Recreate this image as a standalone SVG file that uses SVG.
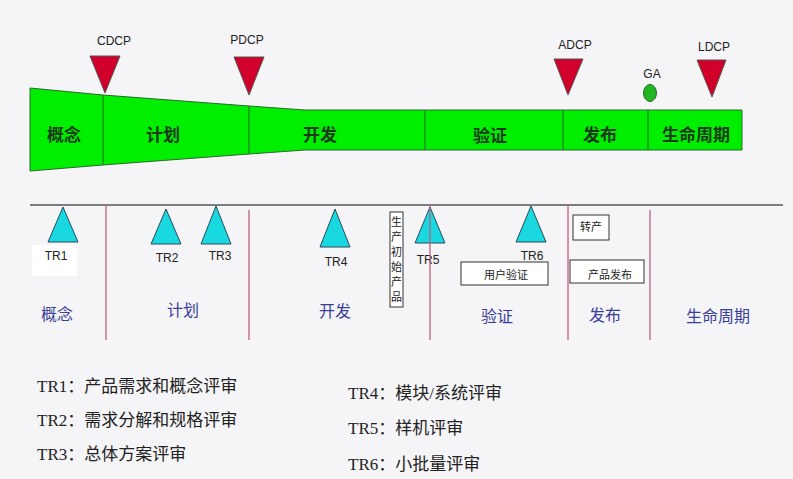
<svg xmlns="http://www.w3.org/2000/svg" width="793" height="479" viewBox="0 0 793 479">
<defs><style>
.lbl{font-family:"Liberation Sans","Noto Sans CJK SC",sans-serif;font-size:12px;fill:#222;text-anchor:middle}
.ph{font-family:"Noto Sans CJK SC",sans-serif;font-size:17px;font-weight:bold;fill:#1a3a1a;text-anchor:middle}
.bt{font-family:"Noto Sans CJK SC",sans-serif;font-size:16px;fill:#3a3f9a;text-anchor:middle}
.leg{font-family:"Liberation Serif","Noto Sans CJK SC",serif;font-size:17px;fill:#222}
.box{fill:#fff;stroke:#333;stroke-width:1}
.bx{font-family:"Noto Sans CJK SC",sans-serif;font-size:11px;fill:#222;text-anchor:middle}
.red{fill:#d0002a;stroke:#555;stroke-width:1}
.cy{fill:#19d8e0;stroke:#2a4a5a;stroke-width:1}
.pl{stroke:#c0607a;stroke-width:1.3}
</style></defs>
<rect width="793" height="479" fill="#f5f5f7"/>
<g id="bar">
<polygon points="30,88 103,95 249,106 305,110 742,110 742,150 305,150 249,154 103,165 30,171" fill="#00ee00" stroke="#2a6a2a" stroke-width="1"/>
<g stroke="#2a6a2a" stroke-width="1"><line x1="103" y1="95" x2="103" y2="165"/><line x1="249" y1="106" x2="249" y2="154"/><line x1="425" y1="110" x2="425" y2="150"/><line x1="563" y1="110" x2="563" y2="150"/><line x1="648" y1="110" x2="648" y2="150"/></g>
<text class="ph" x="64" y="141">概念</text><text class="ph" x="163" y="141">计划</text><text class="ph" x="320" y="141">开发</text><text class="ph" x="490" y="142">验证</text><text class="ph" x="600" y="141">发布</text><text class="ph" x="696" y="141">生命周期</text>
</g>
<g id="milestones">
<polygon class="red" points="90,56 120,56 105,93"/><text class="lbl" x="114" y="45">CDCP</text>
<polygon class="red" points="234,57 264,57 249,95"/><text class="lbl" x="247" y="44">PDCP</text>
<polygon class="red" points="554,59 583,59 568,95"/><text class="lbl" x="575" y="49">ADCP</text>
<polygon class="red" points="697,60 726,60 712,97"/><text class="lbl" x="714" y="51">LDCP</text>
<ellipse cx="650" cy="93" rx="6.5" ry="8.5" fill="#22b522" stroke="#2a6a2a"/><text class="lbl" x="652" y="78">GA</text>
</g>
<g id="connectors">
<line x1="30" y1="205" x2="783" y2="205" stroke="#555" stroke-width="1.3"/>
<line class="pl" x1="106" y1="206" x2="106" y2="340"/><line class="pl" x1="249" y1="210" x2="249" y2="340"/><line class="pl" x1="568" y1="206" x2="568" y2="340"/><line class="pl" x1="650" y1="210" x2="650" y2="340"/>
</g>
<g id="trs">
<rect x="32" y="245" width="45" height="31" fill="#fff"/>
<polygon class="cy" points="63,207 78,242 48,242"/><text class="lbl" x="56" y="260">TR1</text>
<polygon class="cy" points="166,209 181,244 151,244"/><text class="lbl" x="167" y="262">TR2</text>
<polygon class="cy" points="216,206 231,244 201,244"/><text class="lbl" x="220" y="260">TR3</text>
<polygon class="cy" points="335,209 350,247 320,247"/><text class="lbl" x="336" y="266">TR4</text>
<polygon class="cy" points="430,207 445,243 415,243"/><text class="lbl" x="428" y="264">TR5</text>
<line class="pl" x1="430" y1="206" x2="430" y2="340"/>
<polygon class="cy" points="531,206 546,242 516,242"/><text class="lbl" x="532" y="260">TR6</text>
</g>
<g id="boxes">
<rect class="box" x="390" y="212" width="13" height="95"/>
<text class="bx" x="396.5" y="226">生</text><text class="bx" x="396.5" y="241">产</text><text class="bx" x="396.5" y="256">初</text><text class="bx" x="396.5" y="271">始</text><text class="bx" x="396.5" y="286">产</text><text class="bx" x="396.5" y="301">品</text>
<rect class="box" x="461" y="262" width="87" height="23"/><text class="bx" x="506" y="279">用户验证</text>
<rect class="box" x="573" y="215" width="36" height="25"/><text class="bx" x="591" y="231">转产</text>
<rect class="box" x="570" y="260" width="74" height="23"/><text class="bx" x="610" y="279">产品发布</text>
</g>
<g id="phases">
<text class="bt" x="57" y="320">概念</text><text class="bt" x="183" y="316">计划</text><text class="bt" x="335" y="317">开发</text><text class="bt" x="497" y="322">验证</text><text class="bt" x="605" y="321">发布</text><text class="bt" x="718" y="322">生命周期</text>
</g>
<g id="legend">
<text class="leg" x="37" y="392">TR1：产品需求和概念评审</text>
<text class="leg" x="37" y="426">TR2：需求分解和规格评审</text>
<text class="leg" x="37" y="460">TR3：总体方案评审</text>
<text class="leg" x="348" y="399">TR4：模块/系统评审</text>
<text class="leg" x="348" y="434">TR5：样机评审</text>
<text class="leg" x="348" y="470">TR6：小批量评审</text>
</g>
</svg>
